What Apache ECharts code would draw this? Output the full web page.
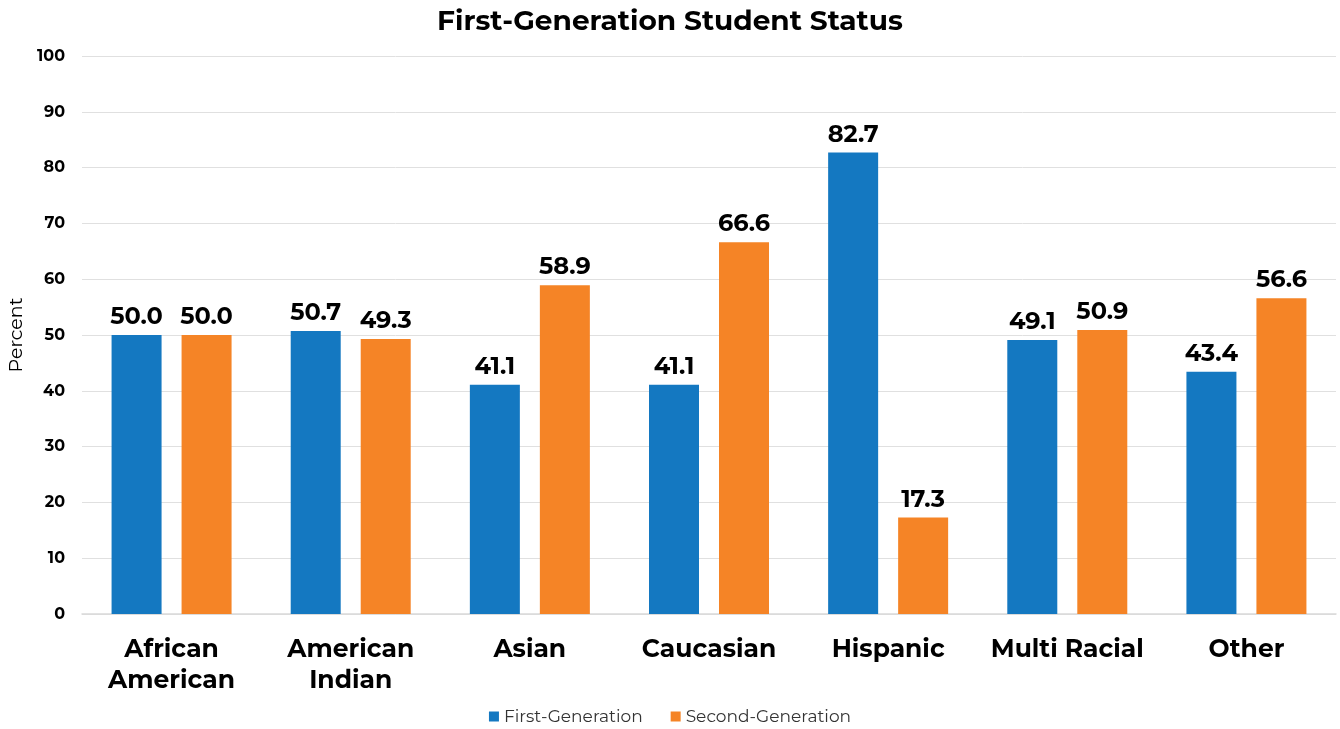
<!DOCTYPE html>
<html>
<head>
<meta charset="utf-8">
<script src="https://cdn.jsdelivr.net/npm/echarts@6/dist/echarts.min.js"></script>
<style>
  html, body { margin: 0; padding: 0; background: #fff; }
  #chart { width: 1340px; height: 729px; }
</style>
</head>
<body>
<div id="chart"></div>
<script>
const categories = ["African\nAmerican", "American\nIndian", "Asian", "Caucasian", "Hispanic", "Multi Racial", "Other"];
const firstGen = [50.0, 50.7, 41.1, 41.1, 82.7, 49.1, 43.4];
const secondGen = [50.0, 49.3, 58.9, 66.6, 17.3, 50.9, 56.6];

const FONT = "Montserrat, 'Open Sans', 'Noto Sans', sans-serif";

let chart = echarts.init(document.getElementById("chart"));

let labelStyle = {
  show: true,
  position: "top",
  distance: 6,
  formatter: p => p.value.toFixed(1),
  fontFamily: FONT,
  fontWeight: "bold",
  fontSize: 24,
  color: "#000"
};

chart.setOption({
  animation: false,
  title: {
    text: "First-Generation Student Status",
    left: "center",
    top: 3,
    textStyle: { fontFamily: FONT, fontWeight: "bold", fontSize: 28, color: "#000" }
  },
  legend: {
    bottom: -1,
    left: "center",
    itemWidth: 10,
    itemHeight: 10,
    itemGap: 28,
    icon: "rect",
    textStyle: { fontFamily: FONT, fontSize: 17, color: "#333" }
  },
  grid: { left: 82, right: 4, top: 56, bottom: 115, containLabel: false, outerBoundsMode: "none" },
  xAxis: {
    type: "category",
    data: categories,
    axisLine: { lineStyle: { color: "#d9d9d9", width: 1.5 } },
    axisTick: { show: false },
    axisLabel: {
      fontFamily: FONT,
      fontWeight: "bold",
      fontSize: 25,
      color: "#000",
      lineHeight: 31,
      margin: 20,
      interval: 0
    }
  },
  yAxis: {
    type: "value",
    min: 0,
    max: 100,
    interval: 10,
    name: "Percent",
    nameLocation: "middle",
    nameGap: 53,
    nameTextStyle: { fontFamily: FONT, fontSize: 19, color: "#000" },
    axisLine: { show: false },
    axisTick: { show: false },
    splitLine: { lineStyle: { color: "#e0e0e0" } },
    axisLabel: {
      fontFamily: FONT,
      fontWeight: "bold",
      fontSize: 16,
      color: "#000",
      margin: 17
    }
  },
  series: [
    {
      name: "First-Generation",
      type: "bar",
      data: firstGen,
      barWidth: 50,
      barGap: "40%",
      itemStyle: { color: "#1478C1" },
      label: labelStyle
    },
    {
      name: "Second-Generation",
      type: "bar",
      data: secondGen,
      barWidth: 50,
      itemStyle: { color: "#F58426" },
      label: labelStyle
    }
  ]
});
</script>
</body>
</html>
